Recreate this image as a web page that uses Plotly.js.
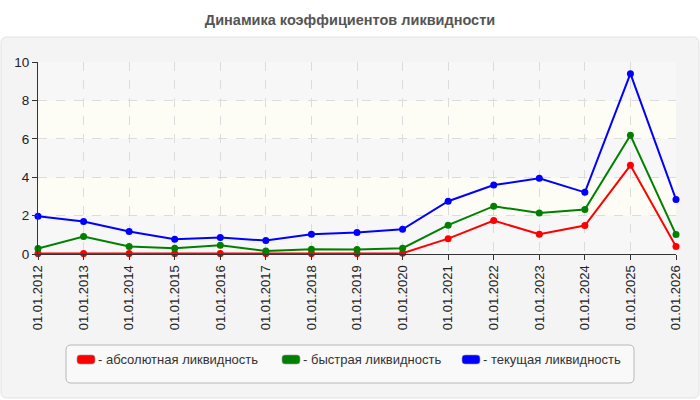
<!DOCTYPE html>
<html>
<head>
<meta charset="utf-8">
<script src="https://cdn.plot.ly/plotly-3.0.1.min.js"></script>
<style>
  html, body { margin: 0; padding: 0; background: #fff; }
  #chart { width: 700px; height: 400px; }
</style>
</head>
<body>
<div id="chart"></div>
<script>
var dates = ['01.01.2012', '01.01.2013', '01.01.2014', '01.01.2015', '01.01.2016',
  '01.01.2017', '01.01.2018', '01.01.2019', '01.01.2020', '01.01.2021',
  '01.01.2022', '01.01.2023', '01.01.2024', '01.01.2025', '01.01.2026'];

var absolute = [0.02, 0.02, 0.02, 0.02, 0.02, 0.02, 0.02, 0.02, 0.04, 0.80, 1.74, 1.03, 1.48, 4.62, 0.39];
var quick = [0.28, 0.91, 0.39, 0.30, 0.45, 0.16, 0.25, 0.23, 0.30, 1.50, 2.49, 2.13, 2.32, 6.18, 1.01];
var current = [1.97, 1.69, 1.17, 0.77, 0.86, 0.70, 1.03, 1.12, 1.29, 2.75, 3.59, 3.94, 3.21, 9.39, 2.84];

var names = ['- абсолютная ликвидность', '- быстрая ликвидность', '- текущая ликвидность'];
var colors = ['#ff0000', '#008000', '#0000ff'];

// plot area in pixels: 38..676 wide, 62..254 high
var L = 38, R = 676, T = 62, B = 254;
function px(x) { return (x - L) / (R - L); }
function py(y) { return (B - y) / (B - T); }

// rounded rectangle in paper coords from pixel box
function roundRect(x0, y0, x1, y1, r) {
  var rx = r / (R - L), ry = r / (B - T);
  var a = px(x0), b = px(x1), c = py(y0), d = py(y1);
  return 'M' + (a + rx) + ',' + c +
    ' L' + (b - rx) + ',' + c + ' Q' + b + ',' + c + ' ' + b + ',' + (c - ry) +
    ' L' + b + ',' + (d + ry) + ' Q' + b + ',' + d + ' ' + (b - rx) + ',' + d +
    ' L' + (a + rx) + ',' + d + ' Q' + a + ',' + d + ' ' + a + ',' + (d + ry) +
    ' L' + a + ',' + (c - ry) + ' Q' + a + ',' + c + ' ' + (a + rx) + ',' + c + ' Z';
}

var series = [absolute, quick, current];
var data = series.map(function (s, i) {
  return {
    x: dates,
    y: s,
    type: 'scatter',
    mode: 'lines+markers',
    name: names[i],
    line: { color: colors[i], width: 2 },
    marker: { color: colors[i], size: 7 },
    cliponaxis: false,
    showlegend: false
  };
});

var shapes = [
  // grey panel
  { type: 'path', xref: 'paper', yref: 'paper', layer: 'below',
    path: roundRect(1, 37, 699, 398, 6),
    fillcolor: '#f4f4f4', line: { color: '#e2e2e2', width: 1 } },
  // legend box
  { type: 'path', xref: 'paper', yref: 'paper', layer: 'below',
    path: roundRect(66, 345, 634, 383, 5),
    fillcolor: '#f9f9f9', line: { color: '#b8b8b8', width: 1 } }
];

// alternating background bands
var bandStops = [0, 2, 4, 6, 8, 10];
for (var k = 0; k < bandStops.length - 1; k++) {
  shapes.push({
    type: 'rect', xref: 'paper', yref: 'y', layer: 'below',
    x0: 0, x1: 1, y0: bandStops[k], y1: bandStops[k + 1],
    fillcolor: k % 2 === 0 ? '#f7f7f7' : '#fdfdf6', line: { width: 0 }
  });
}

// legend swatches and labels
var swatchX = [77, 282, 462];
var annotations = [];
for (var j = 0; j < 3; j++) {
  shapes.push({
    type: 'path', xref: 'paper', yref: 'paper',
    path: roundRect(swatchX[j], 355, swatchX[j] + 18, 364, 3),
    fillcolor: colors[j], line: { color: '#999', width: 0.6 }
  });
  annotations.push({
    xref: 'paper', yref: 'paper', x: px(swatchX[j] + 19), y: py(359),
    xanchor: 'left', yanchor: 'middle', showarrow: false,
    text: names[j], font: { size: 13, color: '#333' }
  });
}

var layout = {
  width: 700,
  height: 400,
  paper_bgcolor: '#ffffff',
  plot_bgcolor: 'rgba(0,0,0,0)',
  font: { family: 'Liberation Sans, Arial, sans-serif', color: '#222' },
  title: {
    text: '<b>Динамика коэффициентов ликвидности</b>',
    font: { size: 14.5, color: '#555' },
    x: 0.5, xanchor: 'center', y: 0.95, yanchor: 'middle'
  },
  margin: { l: L, r: 700 - R, t: T, b: 400 - B },
  showlegend: false,
  xaxis: {
    type: 'category',
    range: [0, dates.length - 1],
    autorange: false,
    tickangle: -90,
    tickfont: { size: 13, color: '#222' },
    ticks: 'outside', ticklen: 5, tickcolor: '#333',
    showline: true, linecolor: '#333', linewidth: 1,
    showgrid: true, gridcolor: '#dcdcdc', griddash: 'dash',
    zeroline: false, fixedrange: true
  },
  yaxis: {
    range: [0, 10],
    autorange: false,
    dtick: 2,
    tickfont: { size: 13.5, color: '#222' },
    ticks: 'outside', ticklen: 5, tickcolor: '#333',
    showline: true, linecolor: '#333', linewidth: 1,
    showgrid: true, gridcolor: '#dcdcdc', griddash: 'dash',
    zeroline: false, fixedrange: true
  },
  shapes: shapes,
  annotations: annotations
};

var config = { displayModeBar: false, staticPlot: true };

Plotly.newPlot('chart', data, layout, config);
</script>
</body>
</html>
